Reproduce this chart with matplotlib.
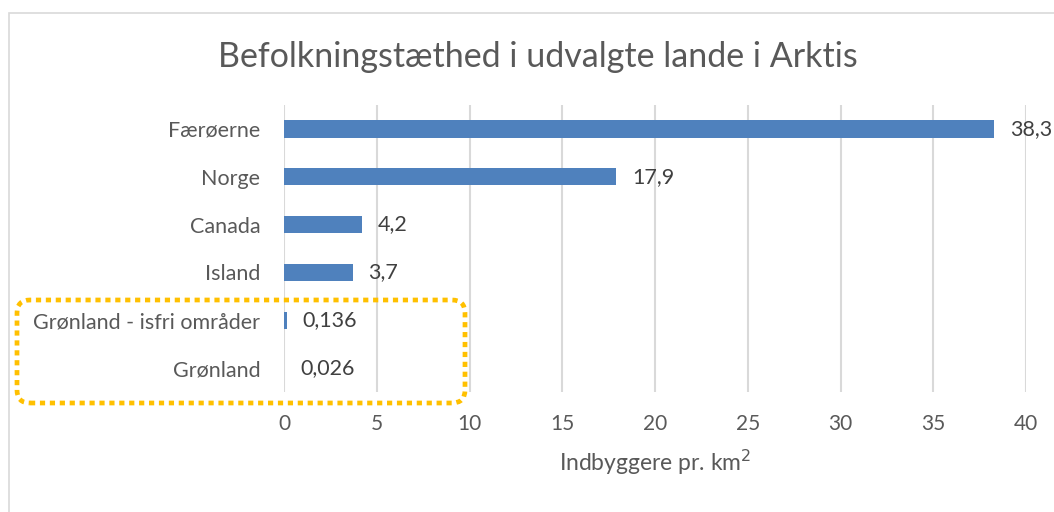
import matplotlib.pyplot as plt
from matplotlib.patches import FancyBboxPatch, Rectangle
from matplotlib.transforms import IdentityTransform

# data (top to bottom)
countries = ["Færøerne", "Norge", "Canada", "Island", "Grønland - isfri områder", "Grønland"]
density = [38.3, 17.9, 4.2, 3.7, 0.136, 0.026]
xticks = [0, 5, 10, 15, 20, 25, 30, 35, 40]

plt.rcParams['font.family'] = ['Lato', 'DejaVu Sans']

W, H = 1054, 512
fig = plt.figure(figsize=(W / 100, H / 100), dpi=100)

# light grey chart border (Excel style)
fig.patches.append(Rectangle((9 / W, -0.05), 1.2, 1 - 13 / H + 0.05, transform=fig.transFigure,
                             fill=False, edgecolor="#D9D9D9", linewidth=1.2))

ax = fig.add_axes([284 / W, 1 - 392 / H, (1026 - 284) / W, (392 - 105) / H])

ypos = list(range(len(countries)))
ax.barh(ypos, density, height=0.36, color="#4F81BD", zorder=3)
for y, v in zip(ypos, density):
    ax.text(v + 0.85, y, str(v).replace(".", ","), va="center", ha="left",
            fontsize=15.5, color="#404040")

ax.set_xlim(0, 40)
ax.set_ylim(len(countries) - 0.5, -0.5)
ax.set_yticks(ypos)
ax.set_yticklabels(countries, fontsize=15.5, color="#595959")
ax.set_xticks(xticks)
ax.set_xticklabels([str(t) for t in xticks], fontsize=15, color="#595959")
ax.tick_params(axis="y", length=0, pad=17)
ax.tick_params(axis="x", length=0, pad=16)
ax.grid(axis="x", color="#D9D9D9", linewidth=1.5, zorder=0)
for s in ax.spines.values():
    s.set_visible(False)

ax.set_xlabel("Indbyggere pr. km$^2$", fontsize=16.5, color="#595959", labelpad=10)
fig.text(538 / W, 1 - 57 / H, "Befolkningstæthed i udvalgte lande i Arktis",
         ha="center", va="center", fontsize=24.5, color="#595959")

# dotted highlight box around the Greenland rows (pixel coordinates)
box = FancyBboxPatch((17, H - 403), 465 - 17, 403 - 300,
                     boxstyle="round,pad=0,rounding_size=13", transform=IdentityTransform(),
                     fill=False, edgecolor="#FFC000", linewidth=3.4,
                     linestyle=(0, (1.1, 1.0)), zorder=5)
fig.patches.append(box)

fig.savefig("out.png", dpi=100)
